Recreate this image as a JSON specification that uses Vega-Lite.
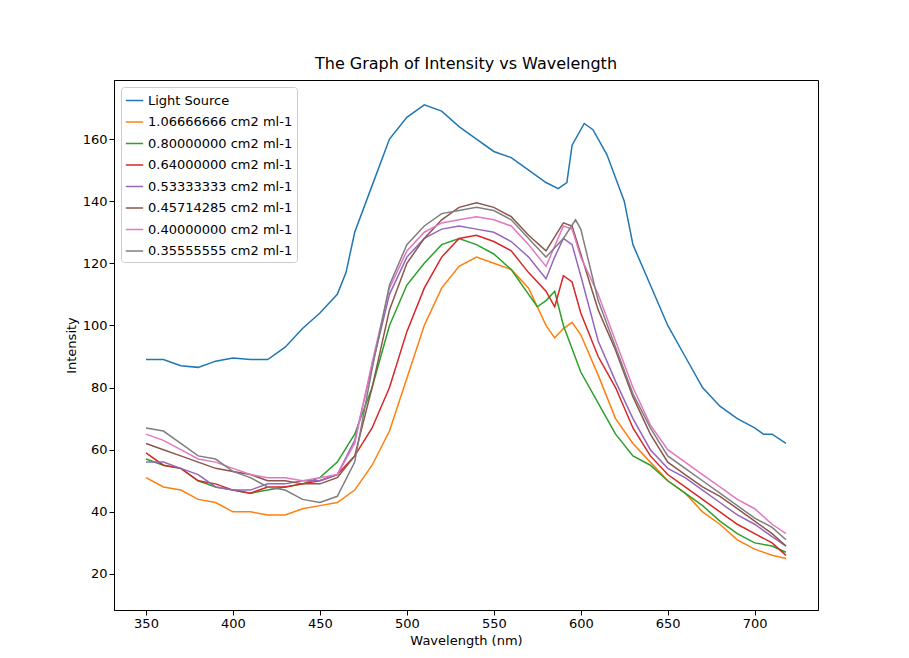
{"$schema":"https://vega.github.io/schema/vega-lite/v6.json","width":704,"height":530,"autosize":"none","padding":{"left":114,"top":80,"right":91,"bottom":48},"background":"white",
"title":{"text":"The Graph of Intensity vs Wavelength","fontSize":16,"fontWeight":"normal","font":"DejaVu Sans","offset":8,"color":"black"},
"datasets":{"raw":[
{"s":"a","p":"350:89,360:89,370:87,380:86.5,390:88.5,400:89.5,410:89,420:89,430:93,440:99,450:104,460:110,465:117,470:130,480:145,490:160,500:167,510:171,520:169,530:164,540:160,550:156,560:154,570:150,580:146,587:144,592:146,595:158,602:165,607:163,615:155,625:140,630:126,640:113,650:100,660:90,670:80,680:74,690:70,700:67,705:65,710:65,718:62"},
{"s":"b","p":"350:51,360:48,370:47,380:44,390:43,400:40,410:40,420:39,430:39,440:41,450:42,460:43,470:47,480:55,490:66,500:83,510:100,520:112,530:119,540:122,550:120,560:118,570:112,580:100,585:96,590:99,595:101,600:97,610:84,620:70,630:62,640:56,650:50,660:46,670:40,680:36,690:31,700:28,710:26,718:25"},
{"s":"c","p":"350:57,360:55,370:54,380:50,390:48,400:47,410:46,420:47,430:48,440:49,450:51,460:56,470:65,480:80,490:100,500:113,510:120,520:126,530:128,540:126,550:123,560:118,570:110,575:106,580:108,585:111,590:100,600:85,610:75,620:65,630:58,640:55,650:50,660:46,670:42,680:37,690:33,700:30,710:29,718:27"},
{"s":"d","p":"350:59,360:55,370:54,380:50,390:49,400:47,410:46,420:48,430:48,440:49,450:50,460:52,470:58,480:67,490:80,500:98,510:112,520:122,530:128,540:129,550:127,560:124,570:117,580:111,585:106,590:116,595:114,600:104,610:90,620:80,630:67,640:58,650:52,660:48,670:44,680:40,690:36,700:33,710:30,718:26"},
{"s":"e","p":"350:56,360:56,370:54,380:52,390:48,400:47,410:47,420:49,430:49,440:50,450:50,460:52,470:63,480:87,490:110,500:122,510:128,520:131,530:132,540:131,550:130,560:127,570:122,580:115,585:122,590:128,595:126,600:116,610:95,620:82,630:70,640:60,650:54,660:51,670:47,680:43,690:39,700:36,710:32,718:29"},
{"s":"f","p":"350:62,360:60,370:58,380:56,390:54,400:53,410:52,420:50,430:50,440:49,450:49,460:51,470:58,480:80,490:105,500:120,510:128,520:134,530:138,540:139.5,550:138,560:135,570:129,580:124,590:133,595:132,600:123,610:105,620:92,630:77,640:65,650:56,660:52,670:48,680:45,690:41,700:37,710:33,718:29"},
{"s":"g","p":"350:65,360:63,370:60,380:57,390:56,400:54,410:52,420:51,430:51,440:50,450:51,460:52,470:62,480:88,490:112,500:124,510:130,520:133,530:134,540:135,550:134,560:132,570:126,580:119,590:132,595:131,600:122,610:110,620:95,630:80,640:68,650:60,660:56,670:52,680:48,690:44,700:41,710:36,718:33"},
{"s":"h","p":"350:67,360:66,370:62,380:58,390:57,400:53,410:51,420:48,430:47,440:44,450:43,460:45,470:56,480:86,490:113,500:126,510:132,520:136,530:137,540:138,550:137,560:134,570:128,580:122,590:128,597:134,600:131,610:108,620:93,630:78,640:67,650:58,660:54,670:50,680:46,690:42,700:38,710:35,718:31"}
]},
"data":{"name":"raw"},
"transform":[{"calculate":"split(datum.p, ',')","as":"pts"},{"flatten":["pts"]},{"calculate":"toNumber(split(datum.pts, ':')[0])","as":"x"},{"calculate":"toNumber(split(datum.pts, ':')[1])","as":"y"}],
"mark":{"type":"line","strokeWidth":1.5,"interpolate":"linear"},
"encoding":{
"x":{"field":"x","type":"quantitative","scale":{"domain":[331.6,736.4],"nice":false,"zero":false},"axis":{"values":[350,400,450,500,550,600,650,700],"title":"Wavelength (nm)","grid":false,"labelFontSize":13,"titleFontSize":13,"titleFontWeight":"normal","labelColor":"black","titleColor":"black","domainColor":"black","tickColor":"black","labelFont":"DejaVu Sans","titleFont":"DejaVu Sans"}},
"y":{"field":"y","type":"quantitative","scale":{"domain":[8.4,179],"nice":false,"zero":false},"axis":{"values":[20,40,60,80,100,120,140,160],"title":"Intensity","grid":false,"labelFontSize":13,"titleFontSize":13,"titleFontWeight":"normal","labelColor":"black","titleColor":"black","domainColor":"black","tickColor":"black","labelFont":"DejaVu Sans","titleFont":"DejaVu Sans"}},
"color":{"field":"s","type":"nominal","scale":{"domain":["a","b","c","d","e","f","g","h"],"range":["#1f77b4","#ff7f0e","#2ca02c","#d62728","#9467bd","#8c564b","#e377c2","#7f7f7f"]},
"legend":{"title":null,"orient":"top-left","offset":7,"fillColor":"white","strokeColor":"#cccccc","padding":4,"cornerRadius":3,"symbolType":"stroke","symbolSize":300,"symbolStrokeWidth":1.5,"labelFontSize":13,"labelFont":"DejaVu Sans","labelColor":"black","rowPadding":4.5,
"labelExpr":"{'a':'Light Source','b':'1.06666666 cm2 ml-1','c':'0.80000000 cm2 ml-1','d':'0.64000000 cm2 ml-1','e':'0.53333333 cm2 ml-1','f':'0.45714285 cm2 ml-1','g':'0.40000000 cm2 ml-1','h':'0.35555555 cm2 ml-1'}[datum.value]"}}
},
"config":{"view":{"stroke":"black"}}
}
